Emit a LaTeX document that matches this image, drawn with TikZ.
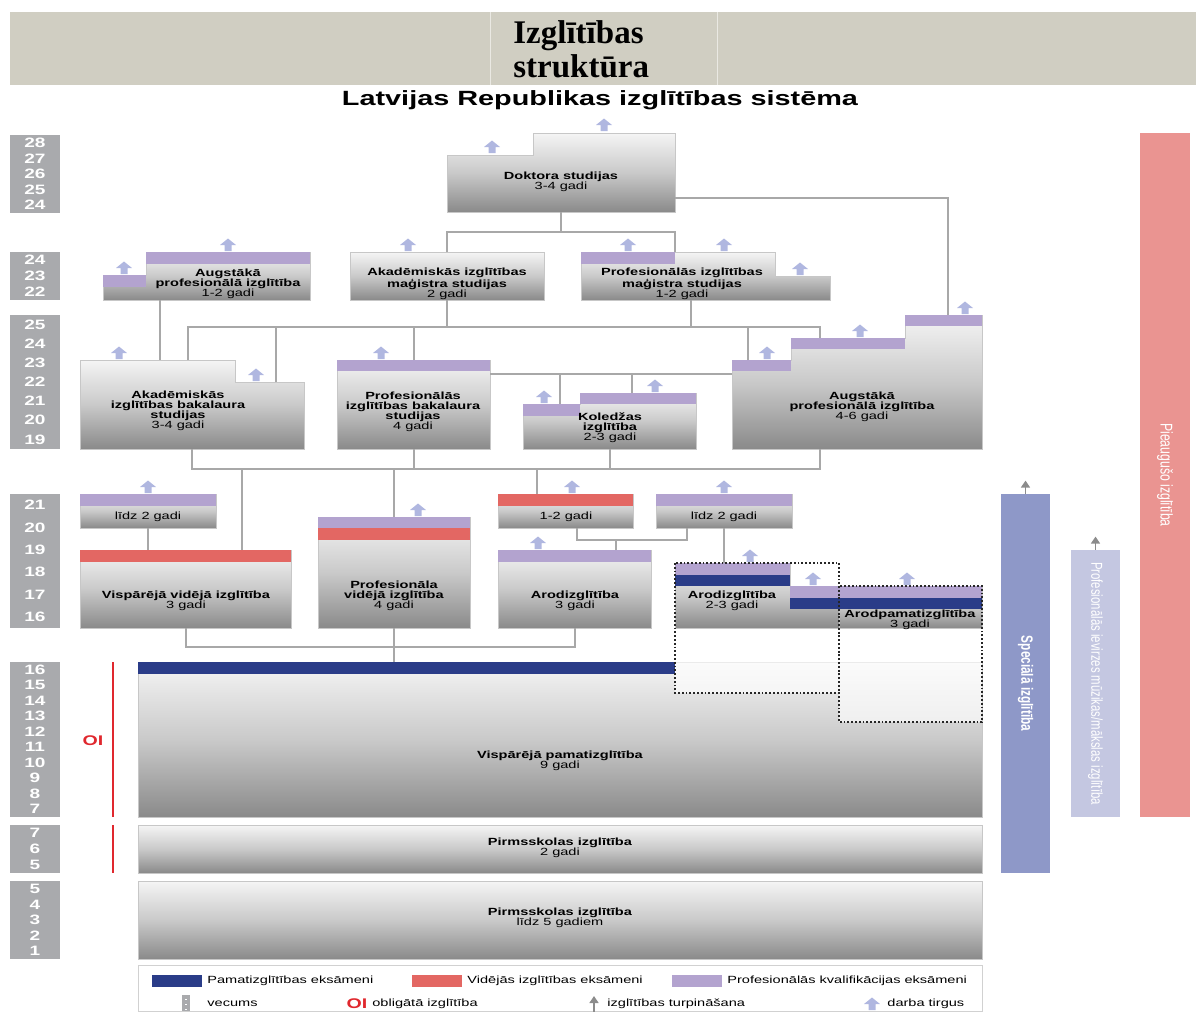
\documentclass[tikz,border=0pt]{standalone}
\usepackage{fontspec}
\usetikzlibrary{fit,arrows.meta}
\setmainfont{Liberation Sans}
\newfontfamily\lblfont[FakeStretch=1.4]{Liberation Sans}
\newfontfamily\rotfont[FakeStretch=0.72]{Liberation Sans}
\newfontfamily\ttlfont{Liberation Serif}
\definecolor{hdrc}{HTML}{D0CEC2}
\definecolor{agec}{HTML}{A9AAAD}
\definecolor{profc}{HTML}{B3A3CF}
\definecolor{vidc}{HTML}{E36763}
\definecolor{pamc}{HTML}{2A3C88}
\definecolor{jobc}{HTML}{B0B7E0}
\definecolor{linec}{HTML}{A8A8A8}
\definecolor{specc}{HTML}{8E98C8}
\definecolor{pievc}{HTML}{C4C7E1}
\definecolor{pieac}{HTML}{EA9491}
\definecolor{oic}{HTML}{E0282E}
\tikzset{
  box/.style={draw=black!22, line width=0.4pt, top color=black!4, bottom color=black!46, middle color=black!21},
  boxn/.style={box, inner sep=0pt, outer sep=0pt},
  hit/.style={inner sep=0pt, outer sep=0pt},
  conn/.style={draw=linec, line width=1pt},
  lbl/.style={font=\lblfont\fontsize{5.2}{5}\selectfont, align=center, inner sep=0pt},
  agenum/.style={text=white, font=\lblfont\bfseries\fontsize{6.8}{6}\selectfont, inner sep=0pt},
  legtxt/.style={font=\lblfont\fontsize{5.2}{5}\selectfont, anchor=west, inner sep=0pt},
  bartxt/.style={text=white, font=\rotfont\fontsize{8.5}{9}\selectfont, rotate=-90, inner sep=0pt},
  oitxt/.style={text=oic, font=\lblfont\bfseries\fontsize{7}{7}\selectfont, inner sep=0pt},
  contarr/.style={draw=black!45, line width=0.7pt, -{Triangle[length=3.5pt,width=4.5pt]}},
  job/.pic={\fill[jobc] (0,-6.5) -- (8,0) -- (3.5,0) -- (3.5,6) -- (-3.5,6) -- (-3.5,0) -- (-8,0) -- cycle;}
}
\begin{document}
\begin{tikzpicture}[x=0.5pt, y=-0.5pt]
  \useasboundingbox (0,0) rectangle (1196,1012);

  % header
  \fill[hdrc] (10,12) rectangle (1196,85);
  \draw[white!55!hdrc, line width=0.4pt] (490,12) -- (490,85) (717,12) -- (717,85);
  \node[font=\ttlfont\bfseries\fontsize{16.5}{17}\selectfont, anchor=base west, inner sep=0pt] (ttl1) at (513,43) {Izglītības};
  \node[font=\ttlfont\bfseries\fontsize{16.5}{17}\selectfont, anchor=base west, inner sep=0pt] (ttl2) at (513,77) {struktūra};
  \node[font=\lblfont\bfseries\fontsize{10.3}{11}\selectfont, inner sep=0pt] (sub) at (600,100) {Latvijas Republikas izglītības sistēma};

  % age columns
  \foreach \ytop/\ybot/\hi/\lo in {135/213/28/24, 252/300/24/22, 315/449/25/19, 494/628/21/16,
      662/817/16/7, 825/873/7/5, 881/959/5/1} {
    \fill[agec] (10,\ytop) rectangle (60,\ybot);
    \pgfmathtruncatemacro\cnt{\hi-\lo}
    \foreach \k in {0,...,\cnt} {
      \pgfmathtruncatemacro\num{\hi-\k}
      \node[agenum] (age-\ytop-\k) at (35,{\ytop+(\k+0.5)*(\ybot-\ytop)/(\cnt+1)}) {\num};
    }
  }

  % compulsory education
  \draw[oic, line width=1.2pt] (113,662) -- (113,817) (113,825) -- (113,873);
  \node[oitxt] (oi) at (93,741) {OI};

  % doctoral and masters
  \path[box] (447,212) -- (447,155) -- (533,155) -- (533,133) -- (675,133) -- (675,212) -- cycle;
  \node[hit, fit={(447,133) (675,212)}] (dok) {};
  \node[boxn, fit={(350,252) (544,300)}] (akmag) {};
  \path[box] (581,300) -- (581,252) -- (775,252) -- (775,276) -- (830,276) -- (830,300) -- cycle;
  \node[hit, fit={(581,252) (830,300)}] (pmag) {};
  \coordinate (pmag-t) at (675,252);
  \coordinate (pmag-b) at (691,300);
  \path[box] (103,300) -- (103,275) -- (146,275) -- (146,252) -- (310,252) -- (310,300) -- cycle;
  \node[hit, fit={(103,252) (310,300)}] (apiz) {};
  \coordinate (apiz-b) at (160,300);

  % bachelors, college
  \path[box] (80,449) -- (80,360) -- (235,360) -- (235,382) -- (304,382) -- (304,449) -- cycle;
  \node[hit, fit={(80,360) (304,449)}] (akbak) {};
  \coordinate (akbak-t1) at (188,360);
  \coordinate (akbak-t2) at (276,382);
  \node[boxn, fit={(337,360) (490,449)}] (pbak) {};
  \path[box] (523,449) -- (523,404) -- (580,404) -- (580,393) -- (696,393) -- (696,449) -- cycle;
  \node[hit, fit={(523,393) (696,449)}] (koled) {};
  \coordinate (koled-t1) at (560,404);
  \coordinate (koled-t2) at (632,393);
  \path[box] (732,449) -- (732,360) -- (791,360) -- (791,338) -- (905,338) -- (905,315) -- (982,315) -- (982,449) -- cycle;
  \node[hit, fit={(732,315) (982,449)}] (ap46) {};
  \coordinate (ap46-t1) at (748,360);
  \coordinate (ap46-t2) at (820,338);
  \coordinate (ap46-t3) at (948,315);
  \coordinate (ap46-b) at (820,449);

  % secondary
  \node[boxn, fit={(80,494) (216,528)}] (lidz1) {};
  \node[boxn, fit={(80,550) (291,628)}] (vvid) {};
  \coordinate (vvid-t) at (242,550);
  \node[boxn, fit={(318,517) (470,628)}] (pvid) {};
  \node[boxn, fit={(498,494) (633,528)}] (k12) {};
  \coordinate (k12-t) at (537,494);
  \coordinate (k12-b) at (577,528);
  \node[boxn, fit={(656,494) (792,528)}] (lidz2) {};
  \coordinate (lidz2-b) at (687,528);
  \node[boxn, fit={(498,550) (651,628)}] (arod3) {};
  \coordinate (arod3-t) at (616,550);

  % basic and pre-school
  \node[boxn, fit={(138,662) (982,817)}] (vpam) {};
  \node[boxn, fit={(138,825) (982,873)}] (pirm2) {};
  \node[boxn, fit={(138,881) (982,959)}] (pirm5) {};
  \fill[white, opacity=0.65] (675,563) rectangle (839,693) (839,586) rectangle (982,722);
  \path[box] (675,628) -- (675,563) -- (790,563) -- (790,586) -- (839,586) -- (839,628) -- cycle;
  \node[hit, fit={(675,563) (839,628)}] (arod23) {};
  \node[boxn, fit={(839,586) (982,628)}] (arodp) {};

  % exam bars
  \foreach \xa/\ya/\xb/\yb/\col in {
    581/252/675/264/profc, 146/252/310/264/profc, 103/275/146/287/profc,
    337/360/490/371/profc, 523/404/580/416/profc, 580/393/696/404/profc,
    732/360/791/371/profc, 791/338/905/349/profc, 905/315/982/326/profc,
    80/494/216/506/profc, 80/550/291/562/vidc, 318/517/470/528/profc,
    318/528/470/540/vidc, 498/494/633/506/vidc, 656/494/792/506/profc,
    498/550/651/562/profc, 675/563/790/575/profc, 675/575/790/586/pamc,
    790/586/982/598/profc, 790/598/982/609/pamc, 138/662/675/674/pamc} {
      \fill[\col] (\xa,\ya) rectangle (\xb,\yb);
    }
  \draw[black!85, densely dotted, line width=0.9pt] (675,563) rectangle (839,693) (839,586) rectangle (982,722);

  % connectors
  \coordinate (bus1) at (0,232);
  \coordinate (bus2) at (0,327);
  \coordinate (bus3) at (0,374);
  \coordinate (bus4) at (0,469);
  \coordinate (bus5) at (0,540);
  \coordinate (bus6) at (0,647);
  \draw[conn] (dok.south) -- (dok.south |- bus1);
  \draw[conn] (akmag.north) -- (akmag.north |- bus1) -- (pmag-t |- bus1) -- (pmag-t);
  \draw[conn] ([yshift=-12.75pt]dok.east) -| (ap46-t3);
  \draw[conn] (akmag.south) -- (akmag.south |- bus2);
  \draw[conn] (pmag-b) -- (pmag-b |- bus2);
  \draw[conn] (akbak-t1) -- (akbak-t1 |- bus2) -- (ap46-t2 |- bus2) -- (ap46-t2);
  \draw[conn] (akbak-t2) -- (akbak-t2 |- bus2);
  \draw[conn] (pbak.north) -- (pbak.north |- bus2);
  \draw[conn] (ap46-t1) -- (ap46-t1 |- bus2);
  \draw[conn] (apiz-b) -- (apiz-b |- akbak.north);
  \draw[conn] (pbak.east |- bus3) -- (ap46.west |- bus3);
  \draw[conn] (koled-t1) -- (koled-t1 |- bus3);
  \draw[conn] (koled-t2) -- (koled-t2 |- bus3);
  \draw[conn] (akbak.south) -- (akbak.south |- bus4) -- (ap46-b |- bus4) -- (ap46-b);
  \draw[conn] (pbak.south) -- (pbak.south |- bus4);
  \draw[conn] (koled.south) -- (koled.south |- bus4);
  \draw[conn] (vvid-t) -- (vvid-t |- bus4);
  \draw[conn] (pvid.north) -- (pvid.north |- bus4);
  \draw[conn] (k12-t) -- (k12-t |- bus4);
  \draw[conn] (lidz1.south) -- (lidz1.south |- vvid.north);
  \draw[conn] (k12-b) -- (k12-b |- bus5) -- (lidz2-b |- bus5) -- (lidz2-b);
  \draw[conn] (arod3-t) -- (arod3-t |- bus5);
  \draw[conn] (lidz2.south) -- (lidz2.south |- arod23.north);
  \draw[conn] (vvid.south) -- (vvid.south |- bus6) -- (arod3.south |- bus6) -- (arod3.south);
  \draw[conn] (pvid.south) -- (pvid.south |- vpam.north);

  % labour market arrows
  \foreach \x/\y in {492/147, 604/125, 124/268, 228/245, 408/245, 628/245, 724/245, 800/269,
      119/353, 256/375, 381/353, 544/397, 655/386, 767/353, 860/331, 965/308,
      148/487, 418/510, 572/487, 724/487, 538/543, 750/556, 813/579, 907/579} {
      \pic at (\x,\y) {job};
    }

  % box texts
  \node[lbl] (dok-l) at (561,182) {\textbf{Doktora studijas}\\3-4 gadi};
  \node[lbl] (akmag-l) at (447,284) {\textbf{Akadēmiskās izglītības}\\\textbf{maģistra studijas}\\2 gadi};
  \node[lbl] (pmag-l) at (682,284) {\textbf{Profesionālās izglītības}\\\textbf{maģistra studijas}\\1-2 gadi};
  \node[lbl] (apiz-l) at (228,284) {\textbf{Augstākā}\\\textbf{profesionālā izglītība}\\1-2 gadi};
  \node[lbl] (akbak-l) at (178,411) {\textbf{Akadēmiskās}\\\textbf{izglītības bakalaura}\\\textbf{studijas}\\3-4 gadi};
  \node[lbl] (pbak-l) at (413,412) {\textbf{Profesionālās}\\\textbf{izglītības bakalaura}\\\textbf{studijas}\\4 gadi};
  \node[lbl] (koled-l) at (610,428) {\textbf{Koledžas}\\\textbf{izglītība}\\2-3 gadi};
  \node[lbl] (ap46-l) at (862,407) {\textbf{Augstākā}\\\textbf{profesionālā izglītība}\\4-6 gadi};
  \node[lbl] (lidz1-l) at (148,517) {līdz 2 gadi};
  \node[lbl] (vvid-l) at (186,601) {\textbf{Vispārējā vidējā izglītība}\\3 gadi};
  \node[lbl] (pvid-l) at (394,596) {\textbf{Profesionāla}\\\textbf{vidējā izglītība}\\4 gadi};
  \node[lbl] (k12-l) at (566,517) {1-2 gadi};
  \node[lbl] (lidz2-l) at (724,517) {līdz 2 gadi};
  \node[lbl] (arod3-l) at (575,601) {\textbf{Arodizglītība}\\3 gadi};
  \node[lbl] (arod23-l) at (732,601) {\textbf{Arodizglītība}\\2-3 gadi};
  \node[lbl] (arodp-l) at (910,620) {\textbf{Arodpamatizglītība}\\3 gadi};
  \node[lbl] (vpam-l) at (560,761) {\textbf{Vispārējā pamatizglītība}\\9 gadi};
  \node[lbl] (pirm2-l) at (560,848) {\textbf{Pirmsskolas izglītība}\\2 gadi};
  \node[lbl] (pirm5-l) at (560,918) {\textbf{Pirmsskolas izglītība}\\līdz 5 gadiem};

  % side bars
  \node[fill=specc, inner sep=0pt, fit={(1001,494) (1050,873)}] (spec) {};
  \node[fill=pievc, inner sep=0pt, fit={(1071,550) (1120,817)}] (piev) {};
  \node[fill=pieac, inner sep=0pt, fit={(1140,133) (1190,817)}] (pieaug) {};
  \node[bartxt, font=\rotfont\bfseries\fontsize{8.2}{9}\selectfont] (spec-l) at (spec.center) {Speciālā izglītība};
  \node[bartxt, font=\rotfont\fontsize{7.9}{8}\selectfont] (piev-l) at (piev.center) {Profesionālās ievirzes mūzikas/mākslas izglītība};
  \node[bartxt] (pieaug-l) at (pieaug.center) {Pieaugušo izglītība};
  \draw[contarr] (spec.north) -- ++(0,-13);
  \draw[contarr] (piev.north) -- ++(0,-13);

  % legend
  \node[draw=black!18, line width=0.5pt, inner sep=0pt, fit={(138,965) (982,1011)}] (leg) {};
  \foreach \x/\col/\txt in {152/pamc/Pamatizglītības eksāmeni, 412/vidc/Vidējās izglītības eksāmeni,
      672/profc/Profesionālās kvalifikācijas eksāmeni} {
      \fill[\col] (\x,975) rectangle (\x+50,987);
      \node[legtxt] (leg-\x) at (\x+55,981) {\txt};
    }
  \fill[agec] (182,995) rectangle (190,1011);
  \foreach \yy in {999,1004,1009} \draw[white, line width=0.5pt] (185,\yy) -- (187,\yy);
  \node[legtxt] (leg-age) at (207,1004) {vecums};
  \node[oitxt] (leg-oi) at (357,1004) {OI};
  \node[legtxt] (leg-obl) at (372,1004) {obligātā izglītība};
  \draw[contarr] (594,1012) -- (594,996);
  \node[legtxt] (leg-cont) at (607,1004) {izglītības turpināšana};
  \pic at (872,1004) {job};
  \node[legtxt] (leg-job) at (887,1004) {darba tirgus};
\end{tikzpicture}
\end{document}
